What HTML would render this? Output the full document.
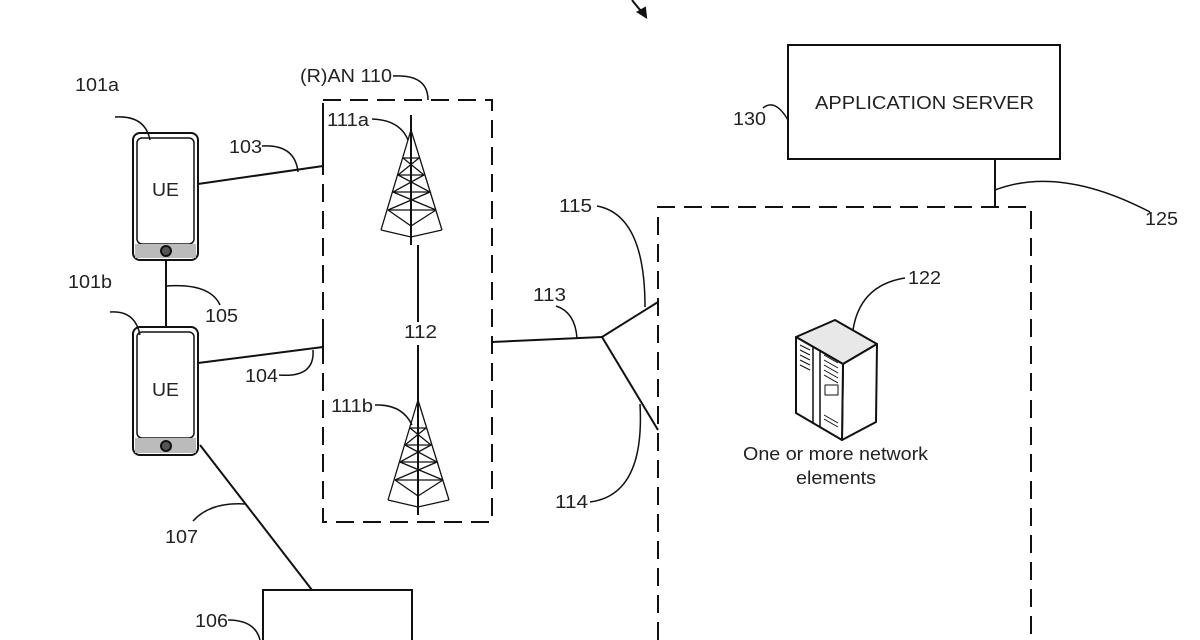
<!DOCTYPE html>
<html><head><meta charset="utf-8"><style>
html,body{margin:0;padding:0;background:#fff;}
svg{display:block;}
text{font-family:"Liberation Sans",Arial,sans-serif;fill:#222;font-size:18.5px;}
</style></head><body>
<svg width="1200" height="640" viewBox="0 0 1200 640" xmlns="http://www.w3.org/2000/svg">
<g stroke="#111" fill="none" stroke-width="2">
<path d="M632 0 Q638 8 644 14" />
<path d="M638 12 L646 17 L645 8 Z" fill="#111"/>
<rect x="788" y="45" width="272" height="114"/>
<path d="M763 108 Q775 98 788 120" stroke-width="1.5"/>
<line x1="995" y1="159" x2="995" y2="207"/>
<path d="M995 190 Q1060 165 1150 212" stroke-width="1.5"/>
<path d="M658 640 L658 207 L1031 207 L1031 640" stroke-dasharray="18 9"/>
<rect x="323" y="100" width="169" height="422" stroke-dasharray="18 9"/>
<line x1="323" y1="118" x2="323" y2="166"/>
<line x1="323" y1="330" x2="323" y2="348"/>
<path d="M393 76 Q428 74 428 100" stroke-width="1.5"/>
<rect x="133" y="133" width="65" height="127" rx="7" stroke-width="2"/>
<rect x="137" y="138" width="57" height="106" rx="5" stroke-width="1.5"/>
<rect x="135" y="244" width="61" height="14" fill="#bbb" stroke="none"/>
<circle cx="166" cy="251" r="5" fill="#555"/>
<rect x="133" y="327" width="65" height="128" rx="7" stroke-width="2"/>
<rect x="137" y="332" width="57" height="106" rx="5" stroke-width="1.5"/>
<rect x="135" y="438" width="61" height="15" fill="#bbb" stroke="none"/>
<circle cx="166" cy="446" r="5" fill="#555"/>
<line x1="166" y1="260" x2="166" y2="327"/>
<path d="M166 286 Q210 283 220 305" stroke-width="1.5"/>
<path d="M115 117 Q145 115 150 140" stroke-width="1.5"/>
<path d="M110 312 Q135 310 140 335" stroke-width="1.5"/>
<line x1="198" y1="184" x2="323" y2="166"/>
<path d="M262 146 Q295 144 298 172" stroke-width="1.5"/>
<line x1="198" y1="363" x2="323" y2="347"/>
<path d="M279 375 Q315 378 313 350" stroke-width="1.5"/>
<line x1="411" y1="115" x2="411" y2="245"/>
<line x1="418" y1="245" x2="418" y2="322"/>
<line x1="418" y1="345" x2="418" y2="515"/>
<path d="M372 119 Q400 120 408 140" stroke-width="1.5"/>
<path d="M375 405 Q402 404 412 425" stroke-width="1.5"/>
<line x1="492" y1="342" x2="602" y2="337"/>
<line x1="602" y1="337" x2="658" y2="302"/>
<line x1="602" y1="337" x2="658" y2="430"/>
<path d="M556 306 Q575 312 577 338" stroke-width="1.5"/>
<path d="M597 206 Q645 215 645 307" stroke-width="1.5"/>
<path d="M590 502 Q645 495 640 404" stroke-width="1.5"/>
<line x1="200" y1="445" x2="312" y2="590"/>
<path d="M193 521 Q210 502 245 504" stroke-width="1.5"/>
<rect x="263" y="590" width="149" height="60"/>
<path d="M228 620 Q255 620 260 640" stroke-width="1.5"/>
<path d="M905 278 Q860 285 853 330" stroke-width="1.5"/>
</g>
<g stroke="#111" fill="none" stroke-width="1.3">
<g>
<path d="M411 130 L381 230 M411 130 L442 230 M411 130 L411 242 M381 230 L411 237 L442 230"/>
<path d="M403 158 L419 158 M398 175 L424 175 M393 192 L430 192 M388 210 L436 210"/>
<path d="M403 158 L424 175 L393 192 L436 210 M419 158 L398 175 L430 192 L388 210 M388 210 L411 226 L436 210"/>
</g>
<g transform="translate(7,270)">
<path d="M411 130 L381 230 M411 130 L442 230 M411 130 L411 242 M381 230 L411 237 L442 230"/>
<path d="M403 158 L419 158 M398 175 L424 175 M393 192 L430 192 M388 210 L436 210"/>
<path d="M403 158 L424 175 L393 192 L436 210 M419 158 L398 175 L430 192 L388 210 M388 210 L411 226 L436 210"/>
</g>
</g>
<g stroke="#111" stroke-width="2" stroke-linejoin="round">
<path d="M796 337 L835 320 L877 344 L843 364 Z" fill="#e8e8e8"/>
<path d="M843 364 L877 344 L876 422 L842 440 Z" fill="#fff"/>
<path d="M796 337 L843 364 L842 440 L796 413 Z" fill="#fff"/>
<path d="M813 346 L813 424 M820 351 L820 428" stroke-width="1.5" fill="none"/>
<g stroke-width="1" fill="none">
<path d="M800 345 L810 350 M800 350 L810 355 M800 355 L810 360 M800 360 L810 365 M800 365 L810 370"/>
<path d="M824 355 L838 363 M824 360 L838 368 M824 365 L838 373 M824 370 L838 378 M824 375 L838 383"/>
<rect x="825" y="385" width="13" height="10"/>
<path d="M824 415 L838 423 M824 419 L838 427"/>
</g>
</g>
<g>
<text x="815" y="109" font-size="19.5" textLength="219" lengthAdjust="spacingAndGlyphs">APPLICATION SERVER</text>
<text x="733" y="125" textLength="33" lengthAdjust="spacingAndGlyphs">130</text>
<text x="1145" y="225" textLength="33" lengthAdjust="spacingAndGlyphs">125</text>
<text x="300" y="82" textLength="92" lengthAdjust="spacingAndGlyphs">(R)AN 110</text>
<text x="75" y="91" textLength="44" lengthAdjust="spacingAndGlyphs">101a</text>
<text x="68" y="288" textLength="44" lengthAdjust="spacingAndGlyphs">101b</text>
<text x="152" y="196" textLength="27" lengthAdjust="spacingAndGlyphs">UE</text>
<text x="152" y="396" textLength="27" lengthAdjust="spacingAndGlyphs">UE</text>
<text x="205" y="322" textLength="33" lengthAdjust="spacingAndGlyphs">105</text>
<text x="229" y="153" textLength="33" lengthAdjust="spacingAndGlyphs">103</text>
<text x="245" y="382" textLength="33" lengthAdjust="spacingAndGlyphs">104</text>
<text x="327" y="126" textLength="42" lengthAdjust="spacingAndGlyphs">111a</text>
<text x="331" y="412" textLength="42" lengthAdjust="spacingAndGlyphs">111b</text>
<text x="404" y="338" textLength="33" lengthAdjust="spacingAndGlyphs">112</text>
<text x="533" y="301" textLength="33" lengthAdjust="spacingAndGlyphs">113</text>
<text x="559" y="212" textLength="33" lengthAdjust="spacingAndGlyphs">115</text>
<text x="555" y="508" textLength="33" lengthAdjust="spacingAndGlyphs">114</text>
<text x="908" y="284" textLength="33" lengthAdjust="spacingAndGlyphs">122</text>
<text x="743" y="460" textLength="185" lengthAdjust="spacingAndGlyphs">One or more network</text>
<text x="796" y="484" textLength="80" lengthAdjust="spacingAndGlyphs">elements</text>
<text x="165" y="543" textLength="33" lengthAdjust="spacingAndGlyphs">107</text>
<text x="195" y="627" textLength="33" lengthAdjust="spacingAndGlyphs">106</text>
<text x="320" y="653" font-size="19" textLength="30" lengthAdjust="spacingAndGlyphs">AP</text>
</g>
</svg>
</body></html>
